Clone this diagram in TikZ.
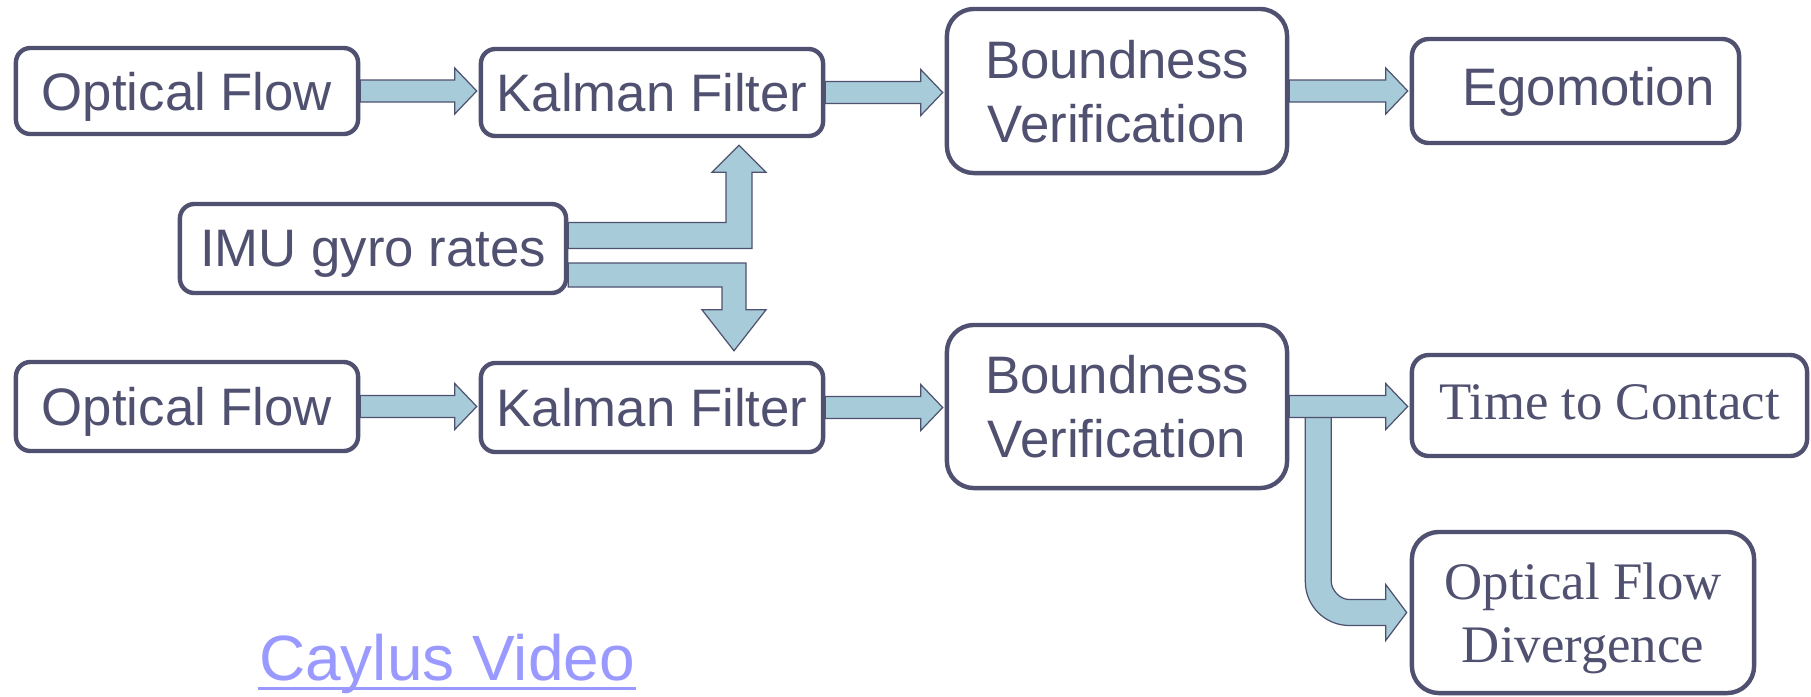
\documentclass[tikz,border=0pt]{standalone}
\usepackage{fontspec}
\setmainfont{Liberation Sans}
\newfontfamily\timesfam{Liberation Serif}
\usetikzlibrary{calc,backgrounds}
\definecolor{boxc}{RGB}{80,80,112}
\definecolor{arrfill}{RGB}{167,203,217}
\definecolor{arrline}{RGB}{78,82,112}
\definecolor{linkc}{RGB}{153,153,255}
\newcommand\harr[2]{\filldraw[arr] ($(#1)+(0,-11)$) -- ($(#2)+(-22,-11)$) -- ($(#2)+(-22,-23)$) -- (#2) -- ($(#2)+(-22,23)$) -- ($(#2)+(-22,11)$) -- ($(#1)+(0,11)$) -- cycle;}
\begin{document}
\begin{tikzpicture}[x=0.01cm,y=-0.01cm,
 box/.style={draw=boxc, line width=1.25pt, fill=white, text=boxc, align=center, inner sep=0pt, font=\fontsize{15}{18.2}\selectfont, text depth=0pt},
 smallbox/.style={box, rounded corners=0.145cm},
 bigbox/.style={box, rounded corners=0.27cm},
 arr/.style={fill=arrfill, draw=arrline, line width=0.35pt, line join=miter}]
\useasboundingbox (0,0) rectangle (1811,696);

\node[smallbox, minimum width=3.42cm, minimum height=0.86cm] (of1) at (187,91) {Optical Flow};
\node[smallbox, minimum width=3.42cm, minimum height=0.87cm] (kf1) at (652,92.5) {Kalman Filter};
\node[bigbox, minimum width=3.40cm, minimum height=1.64cm] (bv1) at (1117,91) {Boundness\\Verification};
\node[box, rounded corners=0.17cm, minimum width=3.27cm, minimum height=1.04cm, text depth=0.1cm] (ego) at (1575.5,91) {\hspace*{0.26cm}Egomotion};
\node[smallbox, minimum width=3.86cm, minimum height=0.89cm] (imu) at (373,248.5) {IMU gyro rates};
\node[smallbox, minimum width=3.42cm, minimum height=0.89cm] (of2) at (187,406.5) {Optical Flow};
\node[smallbox, minimum width=3.42cm, minimum height=0.89cm] (kf2) at (652,407.5) {Kalman Filter};
\node[bigbox, minimum width=3.40cm, minimum height=1.63cm] (bv2) at (1117,406.5) {Boundness\\Verification};
\node[box, rounded corners=0.17cm, minimum width=3.95cm, minimum height=1.01cm, font=\timesfam\fontsize{15}{18}\selectfont, text depth=0.06cm] (ttc) at (1609.5,405.5) {Time to Contact};
\node[bigbox, minimum width=3.42cm, minimum height=1.61cm, font=\timesfam\fontsize{15}{17.9}\selectfont] (ofd) at (1583,612.5) {Optical Flow\\Divergence};

\node[anchor=base, inner sep=0pt, text=linkc, font=\fontsize{18.2}{22}\selectfont] (cay) at (447,680) {Caylus Video};
\draw[linkc, line width=0.85pt] ($(cay.base west)+(0,8)$) -- ($(cay.base east)+(0,8)$);

\begin{scope}[on background layer]
\fill[white] (0,0) rectangle (1811,696);
% straight arrows
\coordinate (a1s) at (of1.east); \coordinate (a1t) at ($(kf1.west|-of1.east)+(-2,0)$);
\harr{a1s}{a1t}
\coordinate (a2s) at (kf1.east); \coordinate (a2t) at ($(bv1.west|-kf1.east)+(-2,0)$);
\harr{a2s}{a2t}
\coordinate (a3s) at (bv1.east); \coordinate (a3t) at ($(ego.west|-bv1.east)+(-2,0)$);
\harr{a3s}{a3t}
\coordinate (a4s) at (of2.east); \coordinate (a4t) at ($(kf2.west|-of2.east)+(-2,0)$);
\harr{a4s}{a4t}
\coordinate (a5s) at (kf2.east); \coordinate (a5t) at ($(bv2.west|-kf2.east)+(-2,0)$);
\harr{a5s}{a5t}
% IMU -> upper Kalman filter
\coordinate (T1) at ($(kf1.south)+(87,7)$);
\coordinate (S1) at ($(imu.east)+(0,-13)$);
\filldraw[arr] ($(S1)+(0,-13)$) -- ($(T1|-S1)+(-13,-13)$) -- ($(T1)+(-13,27)$) -- ($(T1)+(-27,27)$) -- (T1) -- ($(T1)+(27,27)$) -- ($(T1)+(13,27)$) -- ($(T1|-S1)+(13,13)$) -- ($(S1)+(0,13)$) -- cycle;
% IMU -> lower Kalman filter
\coordinate (T2) at ($(kf2.north)+(82,-10)$);
\coordinate (S2) at ($(imu.east)+(0,26.5)$);
\filldraw[arr] ($(S2)+(0,-12)$) -- ($(T2|-S2)+(12,-12)$) -- ($(T2)+(12,-41)$) -- ($(T2)+(32,-41)$) -- (T2) -- ($(T2)+(-32,-41)$) -- ($(T2)+(-12,-41)$) -- ($(T2|-S2)+(-12,12)$) -- ($(S2)+(0,12)$) -- cycle;
% Boundness -> Optical Flow Divergence (bent)
\coordinate (S3) at ($(bv2.east)+(29,0)$);
\coordinate (T3) at ($(ofd.west)+(-3,0)$);
\coordinate (C3) at (S3|-T3);
\filldraw[arr] ($(S3)+(-13,0)$) -- ($(C3)+(-13,-31)$) .. controls ($(C3)+(-13,-6.7)$) and ($(C3)+(6.7,13)$) .. ($(C3)+(31,13)$) -- ($(T3)+(-21,13)$) -- ($(T3)+(-21,28)$) -- (T3) -- ($(T3)+(-21,-28)$) -- ($(T3)+(-21,-13)$) -- ($(C3)+(31,-13)$) .. controls ($(C3)+(21.1,-13)$) and ($(C3)+(13,-22.9)$) .. ($(C3)+(13,-31)$) -- ($(S3)+(13,0)$) -- cycle;
% Boundness -> Time to Contact
\coordinate (a6s) at (bv2.east); \coordinate (a6t) at ($(ttc.west|-bv2.east)+(-2,0)$);
\harr{a6s}{a6t}
\end{scope}
\end{tikzpicture}
\end{document}
